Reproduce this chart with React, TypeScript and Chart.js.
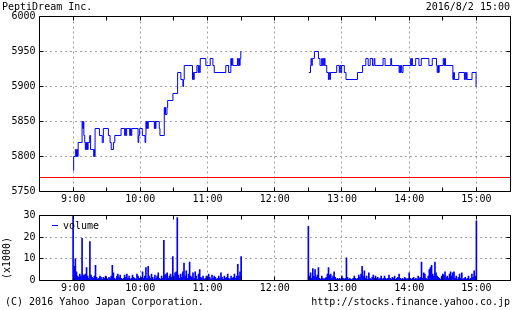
import React, { useEffect, useRef } from 'react';
import { Chart, registerables } from 'chart.js';

Chart.register(...registerables);

const FONT_FAMILY = '"DejaVu Sans Mono", "Liberation Mono", monospace';

const titleText = 'PeptiDream Inc.';
const dateText = '2016/8/2 15:00';
const copyrightText = '(C) 2016 Yahoo Japan Corporation.';
const urlText = 'http://stocks.finance.yahoo.co.jp';
const legendLabel = 'volume';
const volumeUnitLabel = '(x1000)';

// time axis in minutes after midnight
const sessionStart = 540; // 9:00
const axisStart = 510; // 8:30
const axisEnd = 930; // 15:30
const tickStep = 30;
const lunchBreak = 180; // minutes after 9:00 (gap marker)

const priceMin = 5750;
const priceMax = 6000;
const priceStep = 50;
const previousClose = 5770;

const volumeMin = 0;
const volumeMax = 30;
const volumeStep = 10;

// price change points: minutes after 9:00 and price (yen)
const morningMinutes = [
  0, 0.5, 2, 3, 3.5, 4, 4.5, 8, 8.6, 9.2, 9.6, 10.4, 10.9, 11.4, 11.9, 12.4, 12.9, 13.4, 14.8, 15.6,
  18.4, 18.8, 19.2, 19.6, 23.5, 26, 27, 31.5, 33, 34, 36, 37.2, 42.8, 46, 46.6, 47.2, 47.8, 50.5, 51.2, 51.8,
  52.4, 58, 58.6, 59.4, 61.8, 64.2, 64.8, 65, 65.5, 66, 66.5, 67.1, 72.5, 73, 73.5, 74, 76.9, 77.5, 81.4, 81.8,
  82.2, 82.6, 83.8, 84.4, 89.1, 93.3, 96.2, 98, 98.6, 99.2, 106.6, 107.2, 107.6, 108.1, 110.5, 111.7, 112.2, 112.7, 113.5, 118.5,
  122.4, 124.8, 126, 136.3, 138.8, 140.8, 141.4, 142, 142.6, 146.7, 147.3, 147.9, 148.5, 149.1, 149.7, 150,
];
const morningPrices = [
  5780, 5800, 5810, 5800, 5810, 5800, 5820, 5850, 5840, 5850, 5830, 5820, 5810, 5820, 5810, 5820, 5810, 5820, 5830, 5810,
  5800, 5810, 5800, 5840, 5830, 5820, 5840, 5830, 5820, 5810, 5820, 5830, 5840, 5830, 5840, 5830, 5840, 5830, 5840, 5830,
  5840, 5820, 5830, 5840, 5830, 5820, 5830, 5850, 5840, 5850, 5840, 5850, 5840, 5850, 5840, 5850, 5840, 5830, 5870, 5860,
  5870, 5860, 5870, 5880, 5890, 5920, 5910, 5900, 5910, 5930, 5910, 5920, 5910, 5920, 5930, 5920, 5930, 5920, 5940, 5930,
  5940, 5930, 5920, 5930, 5920, 5940, 5930, 5940, 5930, 5940, 5930, 5940, 5930, 5940, 5950, 5950,
];
const afternoonMinutes = [
  210.4, 211.9, 212.4, 213, 213.5, 215.4, 219, 220.4, 221.9, 222.5, 223.1, 223.7, 224.3, 224.9, 226.4, 227.9, 228.5, 229.1, 229.7, 235.3,
  237.6, 238.3, 239, 239.7, 242.1, 243.6, 253.9, 258.4, 261.3, 263.4, 265.2, 267.3, 268.7, 269.4, 276.7, 278.5, 283.6, 284.3, 291, 291.6,
  292.2, 292.8, 293.4, 294.5, 301.3, 301.9, 302.5, 302.8, 305.8, 308.7, 310.8, 317.6, 320.6, 324.4, 325, 325.6, 326.2, 326.8, 330.4, 331,
  331.6, 332.4, 339, 339.6, 340.4, 344.3, 349.3, 349.9, 350.5, 351.1, 351.7, 356.1, 359.7, 360,
];
const afternoonPrices = [
  5920, 5930, 5940, 5930, 5940, 5950, 5940, 5930, 5940, 5930, 5940, 5930, 5940, 5930, 5920, 5910, 5920, 5910, 5920, 5930,
  5920, 5930, 5920, 5930, 5920, 5910, 5920, 5930, 5940, 5930, 5940, 5930, 5940, 5930, 5940, 5930, 5940, 5930, 5920, 5930,
  5920, 5930, 5920, 5930, 5940, 5930, 5940, 5930, 5940, 5930, 5940, 5930, 5940, 5930, 5920, 5930, 5920, 5930, 5940, 5930,
  5940, 5930, 5910, 5920, 5910, 5920, 5910, 5920, 5910, 5920, 5910, 5920, 5900, 5900,
];

// per-minute volume (x1000 shares), morning from 9:00, afternoon from 12:30
const morningVolumeStart = 0;
const morningVolume = [
  32, 6.5, 10, 4, 2, 1.5, 3, 2, 19.5, 2.5,
  2.5, 3, 6, 2, 1, 18, 2.5, 1.5, 1, 2,
  7, 1.5, 0.5, 1, 2, 1.5, 0.5, 1.5, 1, 2,
  1, 0.5, 1.5, 1, 2, 7, 3.5, 1, 0.5, 2,
  3, 1.5, 2.5, 1, 0.5, 1, 2.5, 1.5, 3, 1,
  2, 0.5, 1, 2.5, 1.5, 1, 0.5, 3, 2, 1,
  0.5, 1.5, 4, 1, 2, 6, 1, 6.5, 2, 1,
  3, 1.5, 0.5, 2.5, 1, 2, 3.5, 1, 0.5, 2,
  1, 18.5, 2.5, 3, 3.5, 1, 2, 3, 1.5, 11,
  2, 3.5, 4, 29, 2.5, 1, 3, 1.5, 4, 8,
  2, 4.5, 1, 3, 8.5, 2, 1.5, 3.5, 1, 4,
  2, 0.5, 3, 5, 1.5, 1, 2, 0.5, 1, 2,
  1, 3, 1.5, 0.5, 2.5, 1, 2, 1.5, 0.5, 1,
  2, 1, 3.5, 1.5, 0.5, 2, 1, 1.5, 3, 1,
  0.5, 2, 1, 1.5, 3, 1, 2, 7.5, 2, 4,
  11,
];
const afternoonVolumeStart = 210;
const afternoonVolume = [
  25, 2, 3.5, 1, 5.5, 2, 5, 1.5, 2.5, 6,
  1, 0.5, 2, 1, 0.5, 1, 1.5, 3, 6, 2.5,
  3, 1, 2, 4, 1.5, 0.5, 1, 0.5, 1, 0.5,
  2, 1, 0.5, 1, 10.5, 1.5, 0.5, 1, 0.5, 0.5,
  1, 2, 1, 0.5, 1, 2.5, 1.5, 3, 6.5, 2,
  4.5, 1, 2, 0.5, 3.5, 1, 0.5, 1.5, 2.5, 1,
  2, 1, 1.5, 0.5, 1, 2, 0.5, 1, 2, 1,
  0.5, 1, 2.5, 1, 0.5, 1.5, 1, 2, 0.5, 1,
  1.5, 3, 1, 0.5, 1, 0.5, 1.5, 1, 0.5, 1,
  3.5, 1, 0.5, 1, 1.5, 0.5, 1, 0.5, 2, 1,
  1.5, 8.5, 1, 3.5, 3, 1, 0.5, 2, 5, 6,
  7, 3, 2, 8.5, 3.5, 2, 1.5, 1, 0.5, 2,
  3, 2.5, 4, 1.5, 2, 1, 3, 4, 2, 3.5,
  4, 1, 2, 0.5, 1.5, 3, 1, 3.5, 0.5, 1,
  1.5, 0.5, 1, 2, 0.5, 1, 3, 1.5, 4.5, 2,
  27.5,
];

const BLUE = '#0000ff';
const RED = '#ff0000';
const GRID = '#a0a0a0';
const FONT = { family: FONT_FAMILY, size: 10 };

const timeLabel = (v: number) => (v % 60 === 0 ? `${v / 60}:00` : '');

function framePlugin(tickLen: number) {
  return {
    id: 'gnuFrame',
    afterDraw(chart: any) {
      const { ctx, chartArea: a, scales } = chart;
      const L = Math.floor(a.left) + 0.5;
      const R = Math.floor(a.right) + 0.5;
      const T = Math.floor(a.top) + 0.5;
      const B = Math.floor(a.bottom) + 0.5;
      ctx.save();
      ctx.strokeStyle = '#000000';
      ctx.lineWidth = 1;
      ctx.setLineDash([]);
      ctx.beginPath();
      ctx.rect(L, T, R - L, B - T);
      for (const t of scales.x.ticks) {
        const px = Math.floor(scales.x.getPixelForValue(t.value)) + 0.5;
        ctx.moveTo(px, T);
        ctx.lineTo(px, T + tickLen);
        ctx.moveTo(px, B);
        ctx.lineTo(px, B - tickLen);
      }
      for (const t of scales.y.ticks) {
        const py = Math.floor(scales.y.getPixelForValue(t.value)) + 0.5;
        ctx.moveTo(L, py);
        ctx.lineTo(L + tickLen, py);
        ctx.moveTo(R, py);
        ctx.lineTo(R - tickLen, py);
      }
      ctx.stroke();
      ctx.restore();
    },
  };
}

const volumeDecor = {
  id: 'volumeDecor',
  afterDatasetsDraw(chart: any) {
    const { ctx } = chart;
    ctx.save();
    ctx.strokeStyle = BLUE;
    ctx.lineWidth = 1;
    ctx.beginPath();
    ctx.moveTo(52, 20.5);
    ctx.lineTo(58, 20.5);
    ctx.stroke();
    ctx.fillStyle = '#000000';
    ctx.font = `10px ${FONT_FAMILY}`;
    ctx.textAlign = 'left';
    ctx.textBaseline = 'alphabetic';
    ctx.fillText(legendLabel, 63, 24);
    ctx.translate(7, 53);
    ctx.rotate(-Math.PI / 2);
    ctx.textAlign = 'center';
    ctx.textBaseline = 'middle';
    ctx.fillText(volumeUnitLabel, 0, 0);
    ctx.restore();
  },
};

const xScale = (labelPad: number, height: number) => ({
  type: 'linear',
  min: axisStart,
  max: axisEnd,
  offset: false,
  afterFit: (s: any) => {
    s.height = height;
  },
  ticks: {
    stepSize: tickStep,
    autoSkip: false,
    maxRotation: 0,
    padding: labelPad,
    color: '#000000',
    font: FONT,
    callback: (v: any) => timeLabel(Number(v)),
  },
  grid: {
    offset: false,
    drawTicks: false,
    lineWidth: 1,
    color: (c: any) => (c.tick && c.tick.value % 60 === 0 ? GRID : 'rgba(0,0,0,0)'),
  },
  border: { display: false, dash: [2, 3] },
});

const yScale = (min: number, max: number, step: number) => ({
  type: 'linear',
  min,
  max,
  afterFit: (s: any) => {
    s.width = 39.5;
  },
  ticks: {
    stepSize: step,
    padding: 4,
    color: '#000000',
    font: FONT,
    callback: (v: any) => String(v),
  },
  grid: {
    drawTicks: false,
    lineWidth: 1,
    color: (c: any) => (c.tick && c.tick.value !== min && c.tick.value !== max ? GRID : 'rgba(0,0,0,0)'),
  },
  border: { display: false, dash: [2, 3] },
});

function PriceChart() {
  const ref = useRef<HTMLCanvasElement | null>(null);
  useEffect(() => {
    const pricePoints: any[] = [
      ...morningMinutes.map((m, i) => ({ x: sessionStart + m, y: morningPrices[i] })),
      { x: sessionStart + lunchBreak, y: null },
      ...afternoonMinutes.map((m, i) => ({ x: sessionStart + m, y: afternoonPrices[i] })),
    ];
    const chart = new Chart(ref.current as HTMLCanvasElement, {
      type: 'line',
      data: {
        datasets: [
          {
            data: [
              { x: axisStart, y: previousClose },
              { x: axisEnd, y: previousClose },
            ],
            borderColor: RED,
            backgroundColor: RED,
            borderWidth: 1,
            pointRadius: 0,
          },
          {
            data: pricePoints,
            borderColor: BLUE,
            backgroundColor: BLUE,
            borderWidth: 1,
            pointRadius: 0,
            stepped: 'before',
            spanGaps: false,
          },
        ],
      },
      options: {
        animation: false,
        responsive: false,
        devicePixelRatio: 1,
        layout: { padding: { top: 16.5, right: 0.5, left: 0, bottom: 0 } },
        plugins: { legend: { display: false }, tooltip: { enabled: false } },
        scales: {
          x: xScale(2, 13.5),
          y: yScale(priceMin, priceMax, priceStep),
        },
      } as any,
      plugins: [framePlugin(4)],
    });
    return () => chart.destroy();
  }, []);
  return <canvas ref={ref} width={512} height={205} style={{ display: 'block', width: 512, height: 205 }} />;
}

function VolumeChart() {
  const ref = useRef<HTMLCanvasElement | null>(null);
  useEffect(() => {
    const volumePoints = [
      ...morningVolume.map((v, i) => ({ x: sessionStart + morningVolumeStart + i, y: v })),
      ...afternoonVolume.map((v, i) => ({ x: sessionStart + afternoonVolumeStart + i, y: v })),
    ];
    const chart = new Chart(ref.current as HTMLCanvasElement, {
      type: 'bar',
      data: {
        datasets: [
          {
            data: volumePoints as any,
            backgroundColor: BLUE,
            borderWidth: 0,
            barThickness: 1,
            grouped: false,
          },
        ],
      },
      options: {
        animation: false,
        responsive: false,
        devicePixelRatio: 1,
        layout: { padding: { top: 10.5, right: 0.5, left: 0, bottom: 0 } },
        plugins: { legend: { display: false }, tooltip: { enabled: false } },
        scales: {
          x: xScale(2, 29.5),
          y: yScale(volumeMin, volumeMax, volumeStep),
        },
      } as any,
      plugins: [volumeDecor, framePlugin(4)],
    });
    return () => chart.destroy();
  }, []);
  return <canvas ref={ref} width={512} height={105} style={{ display: 'block', width: 512, height: 105 }} />;
}

const textStyle: React.CSSProperties = {
  position: 'absolute',
  font: `10px ${FONT_FAMILY}`,
  lineHeight: '10px',
  color: '#000000',
  whiteSpace: 'pre',
};

export default function App() {
  return (
    <div style={{ position: 'absolute', left: 0, top: 0, width: 512, height: 310, background: '#ffffff', overflow: 'hidden' }}>
      <div style={{ position: 'absolute', left: 0, top: 0 }}>
        <PriceChart />
      </div>
      <div style={{ position: 'absolute', left: 0, top: 205 }}>
        <VolumeChart />
      </div>
      <div style={{ ...textStyle, left: 2, top: 2 }}>{titleText}</div>
      <div style={{ ...textStyle, right: 2, top: 2 }}>{dateText}</div>
      <div style={{ ...textStyle, left: 5, top: 297 }}>{copyrightText}</div>
      <div style={{ ...textStyle, right: 2, top: 297 }}>{urlText}</div>
    </div>
  );
}
